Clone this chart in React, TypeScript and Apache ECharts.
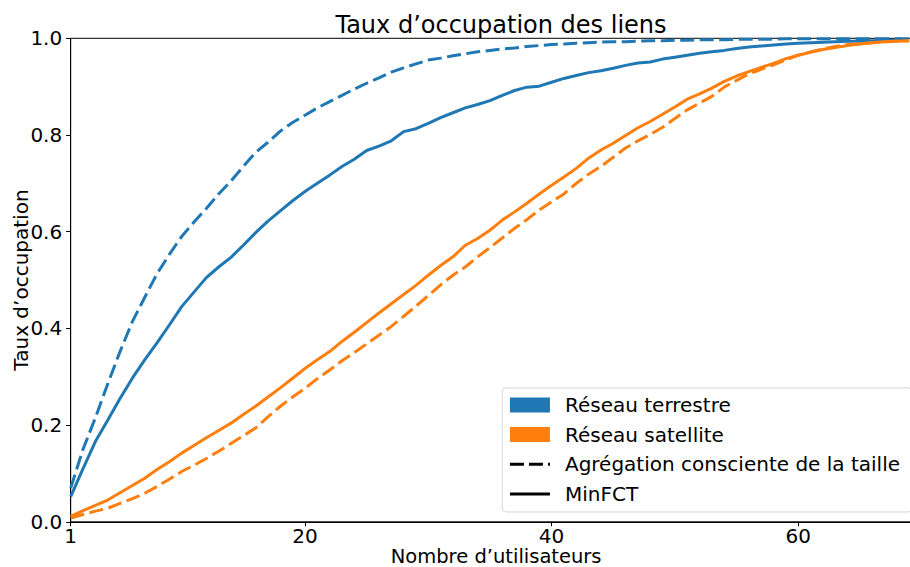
import React, { useEffect, useRef } from "react";
import * as echarts from "echarts";

const users = [
  1, 2, 3, 4, 5, 6, 7, 8, 9, 10, 11, 12, 13, 14, 15, 16, 17, 18, 19, 20,
  21, 22, 23, 24, 25, 26, 27, 28, 29, 30, 31, 32, 33, 34, 35, 36, 37, 38, 39, 40,
  41, 42, 43, 44, 45, 46, 47, 48, 49, 50, 51, 52, 53, 54, 55, 56, 57, 58, 59, 60,
  61, 62, 63, 64, 65, 66, 67, 68, 69,
];

// Réseau terrestre — Agrégation consciente de la taille (dashed blue)
const terrestreAgg = [
  0.07, 0.15, 0.215, 0.285, 0.352, 0.414, 0.464, 0.513, 0.553, 0.59,
  0.62, 0.648, 0.678, 0.705, 0.735, 0.764, 0.785, 0.808, 0.826, 0.841,
  0.856, 0.869, 0.882, 0.895, 0.907, 0.918, 0.93, 0.939, 0.947, 0.955,
  0.959, 0.964, 0.968, 0.972, 0.975, 0.978, 0.98, 0.983, 0.985, 0.987,
  0.988, 0.99, 0.991, 0.992, 0.993, 0.993, 0.994, 0.995, 0.995, 0.996,
  0.996, 0.997, 0.997, 0.997, 0.998, 0.998, 0.998, 0.998, 0.999, 0.999,
  0.999, 0.999, 0.999, 0.999, 0.999, 0.999, 0.999, 0.999, 0.999,
];

// Réseau terrestre — MinFCT (solid blue)
const terrestreMin = [
  0.052, 0.11, 0.166, 0.21, 0.255, 0.297, 0.335, 0.37, 0.407, 0.445,
  0.475, 0.505, 0.527, 0.547, 0.572, 0.598, 0.622, 0.643, 0.664, 0.683,
  0.7, 0.717, 0.735, 0.75, 0.768, 0.777, 0.788, 0.807, 0.813, 0.824,
  0.836, 0.846, 0.856, 0.863, 0.871, 0.882, 0.892, 0.899, 0.901, 0.909,
  0.917, 0.923, 0.929, 0.933, 0.938, 0.944, 0.949, 0.951, 0.957, 0.961,
  0.965, 0.969, 0.972, 0.975, 0.979, 0.982, 0.984, 0.986, 0.988, 0.99,
  0.991, 0.992, 0.993, 0.994, 0.994, 0.995, 0.995, 0.996, 0.996,
];

// Réseau satellite — MinFCT (solid orange)
const satelliteMin = [
  0.011, 0.023, 0.034, 0.045, 0.06, 0.075, 0.09, 0.108, 0.124, 0.142,
  0.158, 0.174, 0.189, 0.204, 0.222, 0.239, 0.258, 0.277, 0.297, 0.317,
  0.335, 0.352, 0.373, 0.392, 0.412, 0.432, 0.451, 0.47, 0.489, 0.51,
  0.53, 0.548, 0.572, 0.586, 0.603, 0.624, 0.641, 0.659, 0.678, 0.696,
  0.713, 0.731, 0.752, 0.769, 0.783, 0.799, 0.815, 0.828, 0.843, 0.858,
  0.874, 0.885, 0.897, 0.911, 0.922, 0.931, 0.94, 0.948, 0.958, 0.965,
  0.971, 0.977, 0.981, 0.985, 0.988, 0.991, 0.993, 0.994, 0.995,
];

// Réseau satellite — Agrégation consciente de la taille (dashed orange)
const satelliteAgg = [
  0.008, 0.015, 0.022, 0.028, 0.038, 0.048, 0.059, 0.073, 0.088, 0.104,
  0.117, 0.131, 0.146, 0.162, 0.178, 0.194, 0.217, 0.239, 0.258, 0.276,
  0.296, 0.314, 0.333, 0.35, 0.368, 0.386, 0.404, 0.425, 0.446, 0.468,
  0.49, 0.51, 0.527, 0.548, 0.567, 0.587, 0.607, 0.625, 0.645, 0.662,
  0.678, 0.7, 0.719, 0.735, 0.754, 0.773, 0.788, 0.801, 0.816, 0.834,
  0.852, 0.866, 0.88, 0.899, 0.913, 0.926, 0.936, 0.945, 0.955, 0.965,
  0.972, 0.978, 0.983, 0.987, 0.989, 0.991, 0.993, 0.994, 0.995,
];

const xTicks = [1, 20, 40, 60];

const BLUE = "#1f77b4";
const ORANGE = "#ff7f0e";
const FONT = "DejaVu Sans";
const FS = 20;
const DASH = [14, 5.5];
const LW = 3;

const ICON_DASHED = "path://M0,0h14v3h-14z M19,0h14v3h-14z M38,0h2v3h-2z";
const ICON_SOLID = "path://M0,0h40v3h-40z";

const pairs = (arr: number[]) => users.map((u, i) => [u, arr[i]]);

export default function App() {
  const ref = useRef<HTMLDivElement>(null);

  useEffect(() => {
    if (!ref.current) return;
    const chart = echarts.init(ref.current, undefined, { renderer: "svg" });
    const lineSeries = (name: string, data: number[], color: string, dashed: boolean) => ({
      type: "line",
      name,
      data: pairs(data),
      showSymbol: false,
      symbol: "none",
      silent: true,
      lineStyle: { color, width: LW, type: dashed ? DASH : "solid", cap: "butt" },
      itemStyle: { color },
      z: 3,
    });
    chart.setOption({
      animation: false,
      backgroundColor: "#fff",
      title: {
        text: "Taux d\u2019occupation des liens",
        left: 496,
        top: 8,
        textAlign: "center",
        textStyle: { fontFamily: FONT, fontSize: 24, fontWeight: "normal", color: "#000" },
      },
      grid: {
        left: 70.7,
        right: 0.5,
        top: 38.3,
        bottom: 45.2,
        show: true,
        borderColor: "#000",
        borderWidth: 1,
        backgroundColor: "transparent",
        containLabel: false,
        outerBoundsMode: "none",
      },
      xAxis: {
        type: "value",
        min: 1,
        max: 70,
        name: "Nombre d\u2019utilisateurs",
        nameLocation: "middle",
        nameGap: 26.5,
        nameMoveOverlap: false,
        nameTextStyle: { fontFamily: FONT, fontSize: 19.5, color: "#000", lineHeight: 17 },
        axisLine: { show: true, lineStyle: { color: "#000", width: 1 } },
        axisTick: { show: true, length: 4.5, lineStyle: { color: "#000" }, customValues: xTicks },
        axisLabel: {
          customValues: xTicks,
          fontFamily: FONT,
          fontSize: FS,
          color: "#000",
          lineHeight: 17,
          margin: 6,
        },
        splitLine: { show: false },
      },
      yAxis: {
        type: "value",
        min: 0,
        max: 1,
        interval: 0.2,
        name: "Taux d\u2019occupation",
        nameLocation: "middle",
        nameGap: 40,
        nameMoveOverlap: false,
        nameTextStyle: { fontFamily: FONT, fontSize: FS, color: "#000" },
        axisLine: { show: true, lineStyle: { color: "#000", width: 1 } },
        axisTick: { show: true, length: 4.5, lineStyle: { color: "#000" } },
        axisLabel: {
          fontFamily: FONT,
          fontSize: FS,
          color: "#000",
          margin: 8.5,
          formatter: (v: number) => v.toFixed(1),
        },
        splitLine: { show: false },
      },
      legend: {
        orient: "vertical",
        right: 10,
        bottom: 55,
        itemWidth: 40,
        itemHeight: 15,
        itemGap: 7.7,
        padding: [6, 12, 7, 7.7],
        borderColor: "#d6d6d6",
        borderWidth: 1,
        borderRadius: 4,
        backgroundColor: "rgba(255,255,255,0.8)",
        selectedMode: false,
        symbolKeepAspect: true,
        textStyle: {
          fontFamily: FONT,
          fontSize: FS,
          color: "#000",
          lineHeight: 22,
          padding: [0, 0, 0, 10],
        },
        data: [
          { name: "R\u00e9seau terrestre", icon: "rect" },
          { name: "R\u00e9seau satellite", icon: "rect" },
          { name: "Agr\u00e9gation consciente de la taille", icon: ICON_DASHED },
          { name: "MinFCT", icon: ICON_SOLID },
        ],
      },
      series: [
        lineSeries("terrestre-agg", terrestreAgg, BLUE, true),
        lineSeries("terrestre-min", terrestreMin, BLUE, false),
        lineSeries("satellite-min", satelliteMin, ORANGE, false),
        lineSeries("satellite-agg", satelliteAgg, ORANGE, true),
        { type: "line", name: "R\u00e9seau terrestre", data: [], itemStyle: { color: BLUE }, lineStyle: { color: BLUE } },
        { type: "line", name: "R\u00e9seau satellite", data: [], itemStyle: { color: ORANGE }, lineStyle: { color: ORANGE } },
        {
          type: "line",
          name: "Agr\u00e9gation consciente de la taille",
          data: [],
          symbol: "none",
          itemStyle: { color: "#000" },
          lineStyle: { color: "#000", width: LW, type: DASH },
        },
        {
          type: "line",
          name: "MinFCT",
          data: [],
          symbol: "none",
          itemStyle: { color: "#000" },
          lineStyle: { color: "#000", width: LW, type: "solid" },
        },
      ],
    });
    return () => chart.dispose();
  }, []);

  return (
    <div
      style={{
        position: "fixed",
        left: 0,
        top: 0,
        width: 910,
        height: 567,
        overflow: "hidden",
        background: "#fff",
      }}
    >
      <div ref={ref} style={{ width: 922, height: 567 }} />
    </div>
  );
}
